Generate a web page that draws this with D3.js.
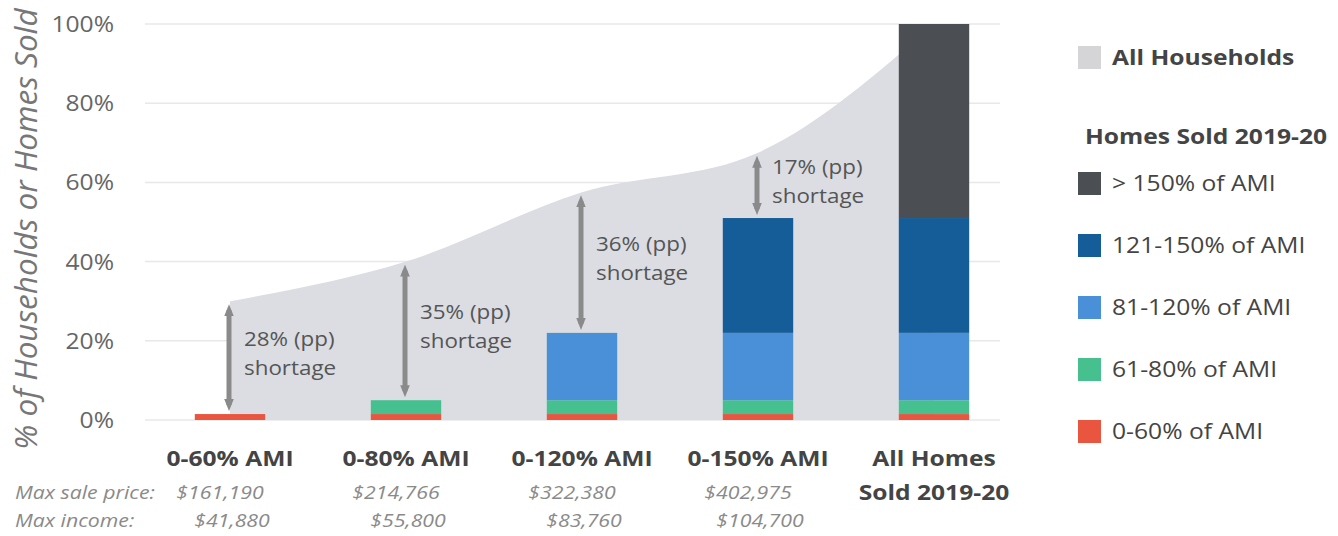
<!DOCTYPE html>
<html lang="en">
<head>
<meta charset="UTF-8">
<title>Homes Sold vs Households by AMI</title>
<script src="https://cdn.jsdelivr.net/npm/d3@7"></script>
<style>
  body { margin: 0; background: #fff; }
  svg { font-family: "Open Sans", sans-serif; }
</style>
</head>
<body>
<script>
// ---------- data ----------
const categories = ["0-60% AMI", "0-80% AMI", "0-120% AMI", "0-150% AMI", "All Homes|Sold 2019-20"];
// share of all households affordable at each level (cumulative, %)
const allHouseholds = [30, 40, 57.5, 67.5, 100];
// homes sold, stacked by AMI band (% of all homes sold)
const segKeys = ["0-60% of AMI", "61-80% of AMI", "81-120% of AMI", "121-150% of AMI", "> 150% of AMI"];
const sold0to60 = [1.5, 1.5, 1.5, 1.5, 1.5];
const sold61to80 = [0, 3.5, 3.5, 3.5, 3.5];
const sold81to120 = [0, 0, 17, 17, 17];
const sold121to150 = [0, 0, 0, 29, 29];
const soldOver150 = [0, 0, 0, 0, 49];
const segColors = ["#e9553f", "#47c08f", "#4a90d9", "#155d98", "#4b4e53"];
const shortageLabels = ["28% (pp)", "35% (pp)", "36% (pp)", "17% (pp)"];
const maxSalePrice = ["$161,190", "$214,766", "$322,380", "$402,975"];
const maxIncome = ["$41,880", "$55,800", "$83,760", "$104,700"];
const yTicks = [0, 20, 40, 60, 80, 100];

// ---------- layout ----------
const W = 1338, H = 536;
const SX = 1.12; // the source text is a bit wide
const svg = d3.select("body").append("svg").attr("width", W).attr("height", H);

// put a text at (x,y) with the slight horizontal stretch
function place(sel, fx, fy) {
  sel.attr("transform", (d, i) => `translate(${fx(d, i)},${fy(d, i)}) scale(${SX},1)`);
  return sel;
}

const x = d3.scaleBand().domain(categories).range([142, 1022])
  .paddingInner(0.6).paddingOuter(0.3);
const y = d3.scaleLinear().domain([0, 100]).range([420, 24]);
const cx = d => x(d) + x.bandwidth() / 2;

// gridlines + y tick labels
svg.append("g").selectAll("line").data(yTicks).join("line")
  .attr("x1", 145).attr("x2", 1000)
  .attr("y1", d => y(d)).attr("y2", d => y(d))
  .attr("stroke", "#e8e8e8").attr("stroke-width", 1.5);

svg.append("g").selectAll("text").data(yTicks).join("text")
  .call(place, () => 114, d => y(d)).attr("dy", "0.36em")
  .attr("text-anchor", "end").attr("fill", "#666").style("font-size", "22px")
  .text(d => d + "%");

svg.append("text")
  .attr("transform", "translate(37,229) rotate(-90)")
  .attr("text-anchor", "middle").attr("fill", "#777")
  .style("font-size", "31.5px").style("font-style", "italic")
  .text("% of Households or Homes Sold");

// all households area
const areaData = categories.map((c, i) => ({ c, v: allHouseholds[i] }));
svg.append("path").datum(areaData)
  .attr("fill", "#dbdde2")
  .attr("d", d3.area().curve(d3.curveMonotoneX)
    .x(d => cx(d.c)).y0(y(0)).y1(d => y(d.v)));

// stacked bars of homes sold
const table = categories.map((c, i) => ({
  cat: c,
  [segKeys[0]]: sold0to60[i], [segKeys[1]]: sold61to80[i], [segKeys[2]]: sold81to120[i],
  [segKeys[3]]: sold121to150[i], [segKeys[4]]: soldOver150[i]
}));
const stacked = d3.stack().keys(segKeys)(table);

svg.append("g").selectAll("g").data(stacked).join("g")
  .attr("fill", (d, i) => segColors[i])
  .selectAll("rect").data(d => d.filter(s => s[1] > s[0])).join("rect")
  .attr("x", d => x(d.data.cat)).attr("width", x.bandwidth())
  .attr("y", d => y(d[1])).attr("height", d => y(d[0]) - y(d[1]));

// shortage arrows
const defs = svg.append("defs");
defs.append("marker").attr("id", "ah")
  .attr("viewBox", "0 0 10 10").attr("refX", 5).attr("refY", 5)
  .attr("markerWidth", 2.4).attr("markerHeight", 2.4)
  .attr("markerUnits", "strokeWidth").attr("orient", "auto-start-reverse")
  .append("path").attr("d", "M0,1 L10,5 L0,9 Z").attr("fill", "#8a8a8a");

const totals = categories.map((c, i) => sold0to60[i] + sold61to80[i] + sold81to120[i] + sold121to150[i] + soldOver150[i]);
const arrows = shortageLabels.map((lab, i) => ({
  cat: categories[i], lab, top: y(allHouseholds[i]) + 9, bot: y(totals[i]) - 9
}));

svg.append("g").selectAll("line").data(arrows).join("line")
  .attr("x1", d => cx(d.cat) - 1).attr("x2", d => cx(d.cat) - 1)
  .attr("y1", d => d.top).attr("y2", d => d.bot)
  .attr("stroke", "#8a8a8a").attr("stroke-width", 5)
  .attr("marker-start", "url(#ah)").attr("marker-end", "url(#ah)");

const lbl = svg.append("g").selectAll("text").data(arrows).join("text")
  .attr("fill", "#555").style("font-size", "20px")
  .call(place, d => cx(d.cat) + 14, d => (d.top + d.bot) / 2 - 4);
lbl.append("tspan").attr("x", 0).attr("dy", "-0.38em").text(d => d.lab);
lbl.append("tspan").attr("x", 0).attr("dy", "1.45em").text("shortage");

// category labels
const catText = svg.append("g").selectAll("text").data(categories).join("text")
  .attr("text-anchor", "middle").attr("fill", "#444")
  .style("font-size", "22px").style("font-weight", "bold")
  .call(place, d => cx(d), () => 466);
catText.selectAll("tspan").data(d => d.split("|")).join("tspan")
  .attr("x", 0).attr("dy", (d, i) => i ? 34 : 0).text(d => d);

// max sale price / max income rows
const rows = svg.append("g").attr("fill", "#8a8a8a")
  .style("font-size", "19px").style("font-style", "italic");
rows.append("text").call(place, () => 15, () => 499).text("Max sale price:");
rows.append("text").call(place, () => 15, () => 527).text("Max income:");
rows.selectAll(".sp").data(maxSalePrice).join("text").attr("class", "sp")
  .attr("text-anchor", "middle")
  .call(place, (d, i) => cx(categories[i]) - 10, () => 499).text(d => d);
rows.selectAll(".mi").data(maxIncome).join("text").attr("class", "mi")
  .attr("text-anchor", "middle")
  .call(place, (d, i) => cx(categories[i]) + 2, () => 527).text(d => d);

// legend
const lg = svg.append("g");
lg.append("rect").attr("x", 1078).attr("y", 46).attr("width", 23).attr("height", 23).attr("fill", "#d5d5d7");
lg.append("text").call(place, () => 1112, () => 57).attr("dy", "0.36em")
  .attr("fill", "#444").style("font-size", "22px").style("font-weight", "bold").text("All Households");
lg.append("text").call(place, () => 1085, () => 136).attr("dy", "0.36em")
  .attr("fill", "#444").style("font-size", "22px").style("font-weight", "bold").text("Homes Sold 2019-20");

const legendItems = segKeys.map((k, i) => ({ k, c: segColors[i] })).reverse();
const li = lg.selectAll(".li").data(legendItems).join("g").attr("class", "li")
  .attr("transform", (d, i) => `translate(1078,${183 + i * 62})`);
li.append("rect").attr("y", -11).attr("width", 23).attr("height", 23).attr("fill", d => d.c);
li.append("text").attr("transform", `translate(34,0) scale(${SX},1)`).attr("dy", "0.36em").attr("fill", "#444")
  .style("font-size", "22px").text(d => d.k);
</script>
</body>
</html>
